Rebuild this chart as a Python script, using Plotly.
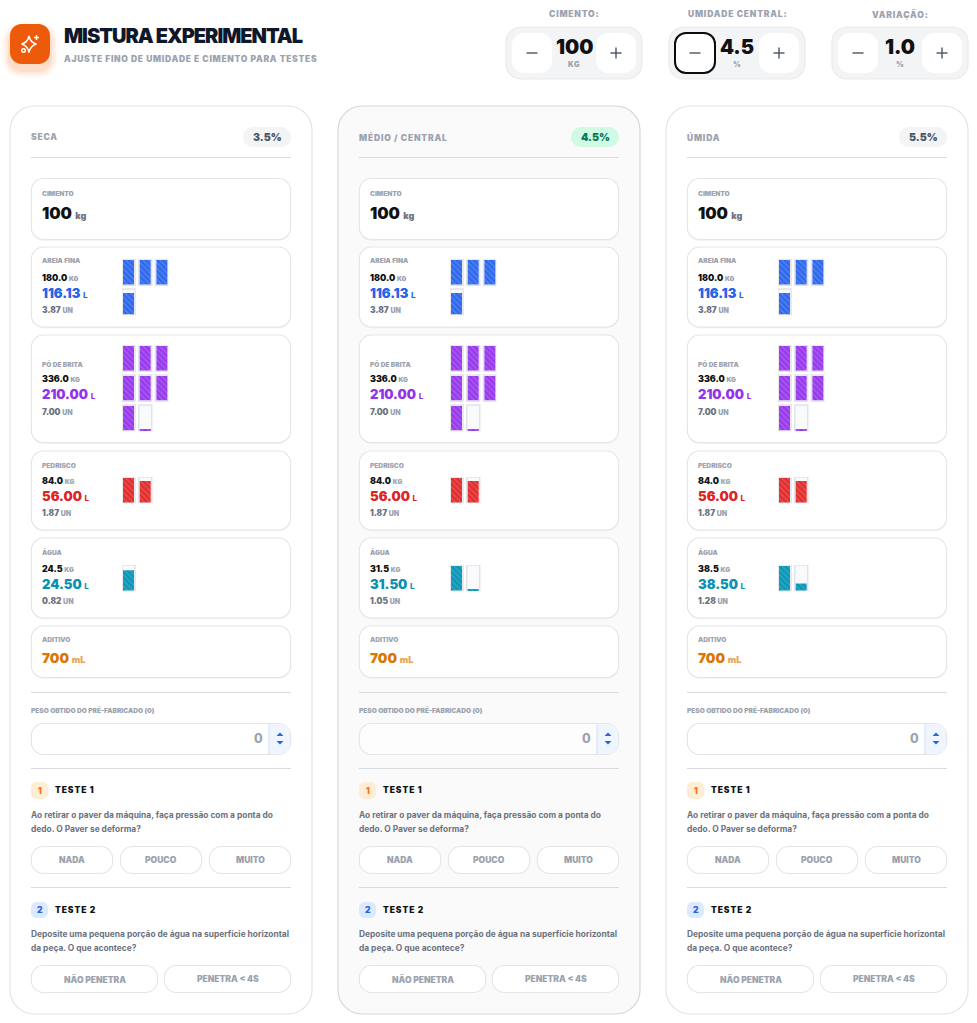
import math
import plotly.graph_objects as go

# ---------- data ----------
COLUMNS = ["SECA", "MÉDIO / CENTRAL", "ÚMIDA"]
MOISTURE = [3.5, 4.5, 5.5]
CEMENT_KG = 100
ADDITIVE_ML = 700
MATERIALS = ["AREIA FINA", "PÓ DE BRITA", "PEDRISCO", "ÁGUA"]
AREIA_KG = [180.0, 180.0, 180.0]
BRITA_KG = [336.0, 336.0, 336.0]
PEDRISCO_KG = [84.0, 84.0, 84.0]
AGUA_KG = [24.5, 31.5, 38.5]
AREIA_L = [116.13, 116.13, 116.13]
BRITA_L = [210.00, 210.00, 210.00]
PEDRISCO_L = [56.00, 56.00, 56.00]
AGUA_L = [24.50, 31.50, 38.50]
AREIA_UN = [3.87, 3.87, 3.87]
BRITA_UN = [7.00, 7.00, 7.00]
PEDRISCO_UN = [1.87, 1.87, 1.87]
AGUA_UN = [0.82, 1.05, 1.28]
# what the tiles show: the last tile has a sliver of fill
BRITA_TILES = [7.04, 7.04, 7.04]
AGUA_TILES = [0.82, 1.03, 1.28]
STEPPERS = ["CIMENTO:", "UMIDADE CENTRAL:", "VARIAÇÃO:"]
STEPPER_VALUES = ["100", "4.5", "1.0"]
STEPPER_UNITS = ["KG", "%", "%"]
TEST_1_OPTIONS = ["NADA", "POUCO", "MUITO"]
TEST_2_OPTIONS = ["NÃO PENETRA", "PENETRA < 4S"]
TEST_1_TEXT = ["Ao retirar o paver da máquina, faça pressão com a ponta do",
               "dedo. O Paver se deforma?"]
TEST_2_TEXT = ["Deposite uma pequena porção de água na superfície horizontal",
               "da peça. O que acontece?"]

# ---------- style ----------
W, H = 977, 1023
FONT = "Inter"
INK = "#111827"
GREY = "#9ca3af"
MID = "#6b7280"
BORDER = "#e4e5e8"
COL_DX = 328
SERIES = [
    dict(name=MATERIALS[0], kg=AREIA_KG, l=AREIA_L, un=AREIA_UN, tiles=AREIA_UN,
         color="#2563eb", bg="#4c7cef", top=259,
         card=(247, 327), rows=(261, 277, 293, 310)),
    dict(name=MATERIALS[1], kg=BRITA_KG, l=BRITA_L, un=BRITA_UN, tiles=BRITA_TILES,
         color="#9333ea", bg="#a753f0", top=345,
         card=(335, 442.5), rows=(364, 378, 394, 412)),
    dict(name=MATERIALS[2], kg=PEDRISCO_KG, l=PEDRISCO_L, un=PEDRISCO_UN, tiles=PEDRISCO_UN,
         color="#dc2626", bg="#ea4848", top=477,
         card=(451, 530), rows=(465.5, 480, 496, 513)),
    dict(name=MATERIALS[3], kg=AGUA_KG, l=AGUA_L, un=AGUA_UN, tiles=AGUA_TILES,
         color="#0891b2", bg="#25a5c5", top=565,
         card=(538, 618), rows=(552, 568, 584, 601)),
]

shapes, annots, traces = [], [], []
layout_axes = {}


def rr(x0, y0, x1, y1, r):
    k = r * 0.45
    return (f"M {x0+r} {y0} L {x1-r} {y0} C {x1-k} {y0} {x1} {y0+k} {x1} {y0+r} "
            f"L {x1} {y1-r} C {x1} {y1-k} {x1-k} {y1} {x1-r} {y1} "
            f"L {x0+r} {y1} C {x0+k} {y1} {x0} {y1-k} {x0} {y1-r} "
            f"L {x0} {y0+r} C {x0} {y0+k} {x0+k} {y0} {x0+r} {y0} Z")


def box(x0, y0, x1, y1, r, fill="#ffffff", line=BORDER, lw=1.1, shadow=None, inset=0.35):
    x0, x1 = x0 + inset, x1 - inset
    if shadow:
        shapes.append(dict(type="path", path=rr(x0, y0 + 1.2, x1, y1 + 1.2, r), fillcolor=shadow,
                           line=dict(width=0), layer="below"))
    shapes.append(dict(type="path", path=rr(x0, y0, x1, y1, r), fillcolor=fill,
                       line=dict(color=line, width=lw), layer="below"))


def seg(x0, y0, x1, y1, color="#d9dbdf", lw=1.1):
    shapes.append(dict(type="line", x0=x0, y0=y0, x1=x1, y1=y1,
                       line=dict(color=color, width=lw), layer="below"))


def txt(x, y, s, size, color=INK, weight=700, anchor="left", track=0):
    if track:
        s = f'<span style="letter-spacing:{track}px">{s}</span>'
    annots.append(dict(x=x, y=y, xref="x", yref="y", text=s, showarrow=False,
                       xanchor=anchor, yanchor="middle", align=anchor,
                       font=dict(family=FONT, size=size, color=color, weight=weight),
                       borderpad=0, borderwidth=0))


def small(s, color=GREY, size=7, weight=800):
    return f'<span style="font-size:{size}px;font-weight:{weight};fill:{color}">{s}</span>'


# ---------- header ----------
for grow, op in ((8, 0.04), (6, 0.05), (4, 0.07), (2, 0.09)):
    shapes.append(dict(type="path", path=rr(10 - grow, 24 - grow + 6, 50 + grow, 64 + grow + 6, 12 + grow),
                       fillcolor=f"rgba(249,115,22,{op})", line=dict(width=0), layer="below"))
box(10, 24, 50, 64, 11.5, fill="#ee5a0b", line="#ee5a0b", lw=0, inset=0)
shapes.append(dict(type="path", line=dict(color="white", width=1.5), layer="above",
                   path="M 29 36 Q 30.3 42.6 36.5 44 Q 30.3 45.6 29 52.5 Q 27.7 45.6 21.5 44 Q 27.7 42.6 29 36 Z"))
seg(36.5, 35, 36.5, 40, "white", 1.4)
seg(34, 37.5, 39, 37.5, "white", 1.4)
shapes[-1]["layer"] = shapes[-2]["layer"] = "above"
shapes.append(dict(type="circle", x0=21.7, y0=48.7, x1=25.3, y1=52.3, line=dict(color="white", width=1.4), layer="above"))
txt(64, 35.5, "MISTURA EXPERIMENTAL", 20, "#0f172a", 900, track=-1)
txt(64, 59, "AJUSTE FINO DE UMIDADE E CIMENTO PARA TESTES", 8.5, GREY, 900, track=0.7)

for i, (label, value, unit) in enumerate(zip(STEPPERS, STEPPER_VALUES, STEPPER_UNITS)):
    x0 = 506 + i * 163
    cx = x0 + 68
    txt(cx, 14.3, label, 8.5, GREY, 900, "center", track=0.8)
    box(x0, 27, x0 + 136, 79, 15, fill="#f3f4f6", line="#e9eaec", lw=1.2, inset=0)
    for bx in (x0 + 6, x0 + 90):
        box(bx, 33, bx + 40, 73, 12, fill="white", line="white", lw=0, inset=0)
    if i == 1:
        box(x0 + 6, 33, x0 + 46, 73, 11, fill="white", line="#0b0b0b", lw=2, inset=0)
    seg(x0 + 20.5, 53, x0 + 31.5, 53, "#4b5563", 1.4)
    seg(x0 + 104.5, 53, x0 + 115.5, 53, "#4b5563", 1.4)
    seg(x0 + 110, 47.5, x0 + 110, 58.5, "#4b5563", 1.4)
    txt(cx, 46.5, value, 20, "#111111", 900, "center")
    txt(cx, 64, unit, 7.5, GREY, 900, "center", track=0.6)

# ---------- columns ----------
axis_no = 1
for c, col in enumerate(COLUMNS):
    dx = c * COL_DX
    central = c == 1
    box(10 + dx, 106, 312 + dx, 1014, 24, fill="#fafafa" if central else "white",
        line="#d5d7db" if central else "#e3e4e7", lw=1.2, inset=0)
    L, R = 31 + dx, 291 + dx
    txt(L, 137.3, col, 8.5, GREY, 900, track=0.8)
    shapes.append(dict(type="path", path=rr(243 + dx, 127, 291 + dx, 147, 10),
                       fillcolor="#d1fae5" if central else "#f3f4f6", line=dict(width=0), layer="below"))
    txt(267 + dx, 137, f"{MOISTURE[c]:.1f}%", 10.5, "#047857" if central else "#4b5563", 900, "center")
    seg(L, 157.5, R, 157.5)

    # cement card
    box(L, 178.5, R, 239.5, 12, shadow="#eeeff1")
    txt(L + 11, 193.6, "CIMENTO", 6.6, GREY, 900)
    txt(L + 11, 213.3, f'{CEMENT_KG} {small("kg", MID, 9, 900)}', 16, "#111111", 900)

    # material cards
    for s in SERIES:
        box(L, s["card"][0], R, s["card"][1], 12, shadow="#eeeff1")
        r = s["rows"]
        txt(L + 11, r[0], s["name"], 6.6, GREY, 900)
        txt(L + 11, r[1], f'{s["kg"][c]:.1f} {small("KG", GREY, 6.5, 900)}', 8.8, "#111111", 900)
        txt(L + 11, r[2], f'{s["l"][c]:.2f} {small("L", s["color"], 8, 800)}', 13, s["color"], 900)
        txt(L + 11, r[3], f'{s["un"][c]:.2f} {small("UN", GREY, 7, 900)}', 8.3, MID, 900)

        # tile grid, drawn as stacked bars on its own small axes
        units = s["tiles"][c]
        n = max(1, math.ceil(units))
        idx = list(range(n))
        nrows = math.ceil(n / 3)
        pitch = 1.14
        col_idx = [i % 3 for i in idx]
        base = [(nrows - 1 - i // 3) * pitch for i in idx]
        frac = [min(1.0, units - i) for i in idx]
        axis_no += 1
        xa, ya = f"xaxis{axis_no}", f"yaxis{axis_no}"
        xr, yr = f"x{axis_no}", f"y{axis_no}"
        gx0 = 122 + dx
        gh = 26.3 * (nrows * pitch - (pitch - 1))
        layout_axes[xa] = dict(domain=[gx0 / W, (gx0 + 46.4) / W], range=[-0.39, 2.39],
                               visible=False, anchor=yr, fixedrange=True)
        layout_axes[ya] = dict(domain=[1 - (s["top"] + gh) / H, 1 - s["top"] / H],
                               range=[0, nrows * pitch - (pitch - 1)],
                               visible=False, anchor=xr, fixedrange=True)
        traces.append(go.Bar(x=col_idx, y=[1] * n, base=base, width=0.78, xaxis=xr, yaxis=yr,
                             marker=dict(color="#f9fafb", line=dict(color="#e2e3e6", width=1.5)),
                             hoverinfo="skip", showlegend=False))
        traces.append(go.Bar(x=col_idx, y=[f * 0.93 for f in frac], base=[b + 0.035 for b in base],
                             width=0.66, xaxis=xr, yaxis=yr,
                             marker=dict(color=s["bg"], line=dict(width=0),
                                         pattern=dict(shape="\\", size=4, solidity=0.4,
                                                      fgcolor=s["color"], bgcolor=s["bg"],
                                                      fillmode="replace")),
                             hoverinfo="skip", showlegend=False))

    # additive
    box(L, 626, R, 677.5, 12, shadow="#eeeff1")
    txt(L + 11, 640, "ADITIVO", 6.6, GREY, 900)
    txt(L + 11, 658, f'{ADDITIVE_ML} {small("mL", "#e9a455", 9, 900)}', 13.5, "#d97706", 900)

    seg(L, 692.5, R, 692.5)
    txt(L, 710.5, "PESO OBTIDO DO PRÉ-FABRICADO (0)", 6.6, GREY, 900)
    box(L, 723.5, R, 754.5, 12, fill="#fdfdfd" if central else "white")
    shapes.append(dict(type="path", layer="below", fillcolor="#eff5ff", line=dict(width=0),
                       path=f"M {L+238} 724.2 L {R-11} 724.2 Q {R-1} 724.2 {R-1} 735 L {R-1} 743 "
                            f"Q {R-1} 753.8 {R-11} 753.8 L {L+238} 753.8 Z"))
    seg(L + 238, 724, L + 238, 754, "#d3e0f5", 1)
    txt(L + 232, 738.5, "0", 12.5, GREY, 800, "right")
    for ya_, yb_ in ((736, 732.5), (741, 744.5)):
        shapes.append(dict(type="path", path=f"M {L+245.5} {ya_} L {L+252.5} {ya_} L {L+249} {yb_} Z",
                           fillcolor="#2563eb", line=dict(width=0), layer="above"))
    seg(L, 768.5, R, 768.5)

    # test 1
    shapes.append(dict(type="path", path=rr(L, 782, L + 17, 799, 5.5), fillcolor="#ffedd5",
                       line=dict(width=0), layer="below"))
    txt(L + 8.5, 790.5, "1", 8.5, "#f97316", 900, "center")
    txt(L + 23.5, 790, "TESTE 1", 8.5, "#111111", 900, track=0.9)
    txt(L, 815, TEST_1_TEXT[0], 8.4, MID, 700)
    txt(L, 829, TEST_1_TEXT[1], 8.4, MID, 700)
    for b, opt in enumerate(TEST_1_OPTIONS):
        bx = L + b * 89
        box(bx, 846.5, bx + 82, 873.5, 12)
        txt(bx + 41, 860, opt, 8.5, GREY, 900, "center")
    seg(L, 887.5, R, 887.5)

    # test 2
    shapes.append(dict(type="path", path=rr(L, 902, L + 17, 918, 5.5), fillcolor="#dbeafe",
                       line=dict(width=0), layer="below"))
    txt(L + 8.5, 910, "2", 8.5, "#2563eb", 900, "center")
    txt(L + 23.5, 910, "TESTE 2", 8.5, "#111111", 900, track=0.9)
    txt(L, 934, TEST_2_TEXT[0], 8.4, MID, 700)
    txt(L, 948, TEST_2_TEXT[1], 8.4, MID, 700)
    for b, opt in enumerate(TEST_2_OPTIONS):
        bx = L + b * 133
        box(bx, 965.5, bx + 127, 992.5, 12)
        txt(bx + 63.5, 979, opt.replace("<", "&lt;"), 8.5, GREY, 900, "center")

fig = go.Figure(traces)
fig.update_layout(
    width=W, height=H, autosize=False,
    margin=dict(l=0, r=0, t=0, b=0, pad=0),
    paper_bgcolor="white", plot_bgcolor="rgba(0,0,0,0)",
    barmode="overlay", showlegend=False,
    xaxis=dict(range=[0, W], domain=[0, 1], visible=False, fixedrange=True),
    yaxis=dict(range=[H, 0], domain=[0, 1], visible=False, fixedrange=True),
    shapes=shapes, annotations=annots,
    **layout_axes,
)
fig.write_html(
    "out.html",
    config={"displayModeBar": False, "responsive": False},
    post_script="document.body.style.margin='0';document.documentElement.style.overflow='hidden';",
)
